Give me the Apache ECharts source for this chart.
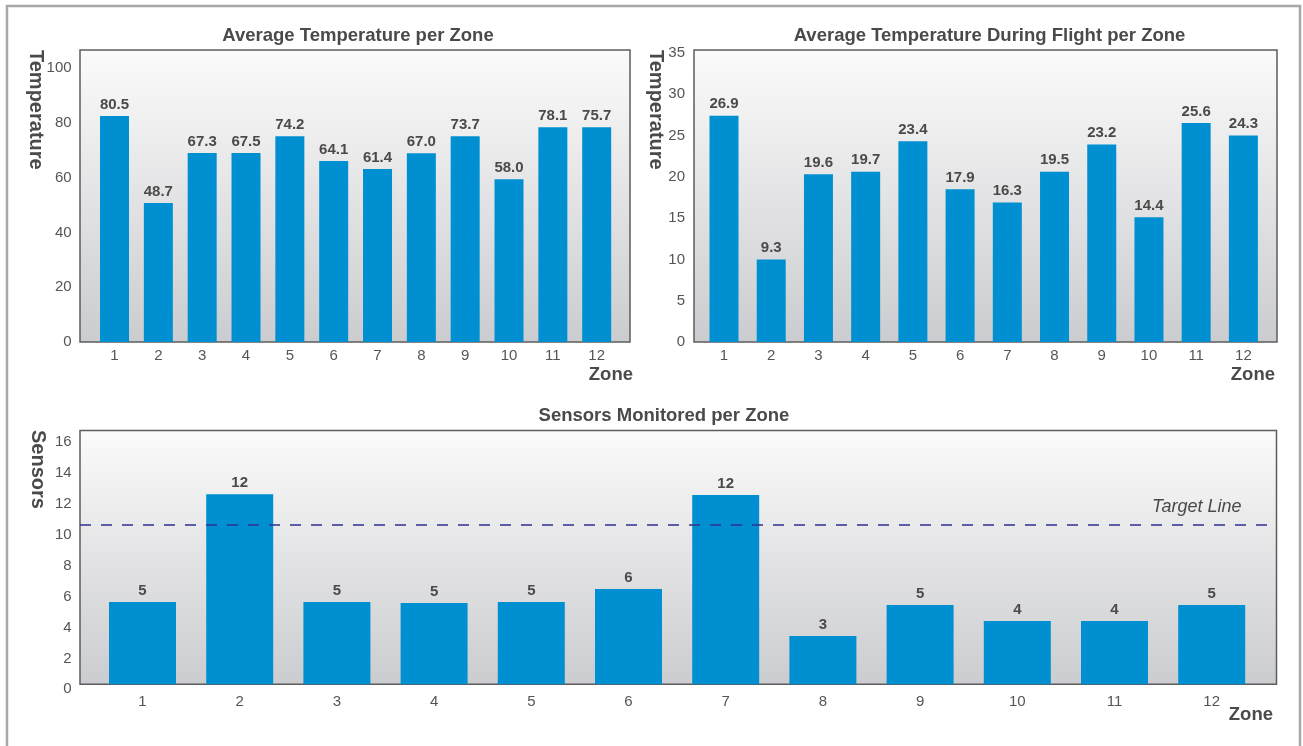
<!DOCTYPE html>
<html>
<head>
<meta charset="utf-8">
<script src="https://cdn.jsdelivr.net/npm/echarts@6/dist/echarts.min.js"></script>
<style>
html,body{margin:0;padding:0;background:#fff;}
#chart{width:1303px;height:746px;}
</style>
</head>
<body>
<div id="chart"></div>
<script>
// ---- data ----
const zones = ['1','2','3','4','5','6','7','8','9','10','11','12'];
const avgTempBars = [82.6, 50.8, 69.1, 69.1, 75.2, 66.1, 63.2, 69.0, 75.2, 59.5, 78.5, 78.5];
const avgTempLabels = ['80.5','48.7','67.3','67.5','74.2','64.1','61.4','67.0','73.7','58.0','78.1','75.7'];
const flightTempBars = [27.4, 10.0, 20.3, 20.6, 24.3, 18.5, 16.9, 20.6, 23.9, 15.1, 26.5, 25.0];
const flightTempLabels = ['26.9','9.3','19.6','19.7','23.4','17.9','16.3','19.5','23.2','14.4','25.6','24.3'];
const sensorBars = [5.33, 12.3, 5.33, 5.26, 5.33, 6.17, 12.25, 3.13, 5.13, 4.1, 4.1, 5.13];
const sensorLabels = ['5','12','5','5','5','6','12','3','5','4','4','5'];
const targetValue = 10.36;
const titles = ['Average Temperature per Zone', 'Average Temperature During Flight per Zone', 'Sensors Monitored per Zone'];

// ---- style ----
const FONT = "'Liberation Sans', Arial, Helvetica, sans-serif";
const TXT = '#4a4a4a';
const TICK = '#555555';
const BAR = '#0090d1';
const bgGrad = new echarts.graphic.LinearGradient(0, 0, 0, 1, [
  {offset: 0, color: '#fbfbfb'}, {offset: 1, color: '#cbcccf'}
]);

function bgGrid(left, top, width, height) {
  return {left, top, width, height, show: true, backgroundColor: bgGrad,
    borderColor: '#5c5c5c', borderWidth: 1.5, containLabel: false};
}
function dataGrid(left, top, width, height) {
  return {left, top, width, height, show: false, containLabel: false};
}
function hiddenAxis(gi, min, max) {
  return {type: 'value', gridIndex: gi, min, max, show: false};
}
function catAxis(gi, margin) {
  return {type: 'category', gridIndex: gi, data: zones, boundaryGap: true,
    axisLine: {show: false}, axisTick: {show: false}, splitLine: {show: false},
    axisLabel: {color: TICK, fontSize: 15, fontFamily: FONT, margin}};
}
function valAxis(gi, max, interval, margin, shiftDown) {
  const lbl = {color: TICK, fontSize: 15, fontFamily: FONT, margin, showMaxLabel: false};
  if (shiftDown) { lbl.verticalAlign = 'top'; lbl.lineHeight = shiftDown * 2; }
  return {type: 'value', gridIndex: gi, min: 0, max, interval,
    axisLine: {show: false}, axisTick: {show: false}, splitLine: {show: false},
    axisLabel: lbl};
}
function barSeries(axisIdx, data, labels, width) {
  return {type: 'bar', xAxisIndex: axisIdx, yAxisIndex: axisIdx, data, barWidth: width, z: 3,
    itemStyle: {color: BAR},
    label: {show: true, position: 'top', distance: 4, color: TXT, fontWeight: 'bold',
      fontSize: 15, fontFamily: FONT, formatter: p => labels[p.dataIndex]}};
}
function gText(text, x, y, opts) {
  return Object.assign({type: 'text', x, y, silent: true,
    style: Object.assign({text, fill: TXT, font: 'bold 18.5px ' + FONT, align: 'center', verticalAlign: 'middle'}, (opts && opts.style) || {})},
    opts && opts.rotation !== undefined ? {rotation: opts.rotation} : {});
}

const chart = echarts.init(document.getElementById('chart'), null, {renderer: 'canvas'});
chart.setOption({
  animation: false,
  backgroundColor: '#ffffff',
  grid: [
    bgGrid(80, 50, 550, 292),
    dataGrid(92.6, 50, 526, 292),
    bgGrid(694, 50, 583, 292),
    dataGrid(700.4, 50, 566.6, 292),
    bgGrid(80, 430.5, 1196.5, 253.8),
    dataGrid(93.9, 430.5, 1166.4, 253.8)
  ],
  xAxis: [
    hiddenAxis(0, 0, 1), catAxis(1, 6),
    hiddenAxis(2, 0, 1), catAxis(3, 6),
    hiddenAxis(4, 0, 1), catAxis(5, 10)
  ],
  yAxis: [
    hiddenAxis(0, 0, 106.7), valAxis(1, 106.7, 20, 21),
    hiddenAxis(2, 0, 35.35), valAxis(3, 35.35, 5, 15.4),
    hiddenAxis(4, 0, 16.43), valAxis(5, 16.43, 2, 22.2, 5)
  ],
  series: [
    barSeries(1, avgTempBars, avgTempLabels, 29),
    barSeries(3, flightTempBars, flightTempLabels, 29),
    barSeries(5, sensorBars, sensorLabels, 67),
    {type: 'line', xAxisIndex: 4, yAxisIndex: 4, data: [], z: 1, silent: true,
      markLine: {silent: true, symbol: 'none', animation: false,
        lineStyle: {color: '#2e3190', width: 1.5, type: [11, 10]},
        label: {show: true, position: 'insideEndTop', distance: [35, 8], formatter: 'Target Line',
          color: TXT, fontStyle: 'italic', fontSize: 18, fontFamily: FONT},
        data: [{yAxis: targetValue}]}}
  ],
  graphic: [
    {type: 'rect', silent: true, shape: {x: 7, y: 6, width: 1293, height: 800},
      style: {fill: 'none', stroke: '#a8a8a8', lineWidth: 2.5}},
    gText(titles[0], 358, 36),
    gText(titles[1], 989.5, 36),
    gText(titles[2], 664, 416),
    gText('Temperature', 35.5, 50, {rotation: -Math.PI / 2, style: {align: 'left', font: 'bold 20px ' + FONT}}),
    gText('Temperature', 656, 50, {rotation: -Math.PI / 2, style: {align: 'left', font: 'bold 20px ' + FONT}}),
    gText('Sensors', 37.5, 430, {rotation: -Math.PI / 2, style: {align: 'left', font: 'bold 20px ' + FONT}}),
    gText('Zone', 633, 375, {style: {align: 'right'}}),
    gText('Zone', 1275, 375, {style: {align: 'right'}}),
    gText('Zone', 1273, 715, {style: {align: 'right'}})
  ]
});
</script>
</body>
</html>
